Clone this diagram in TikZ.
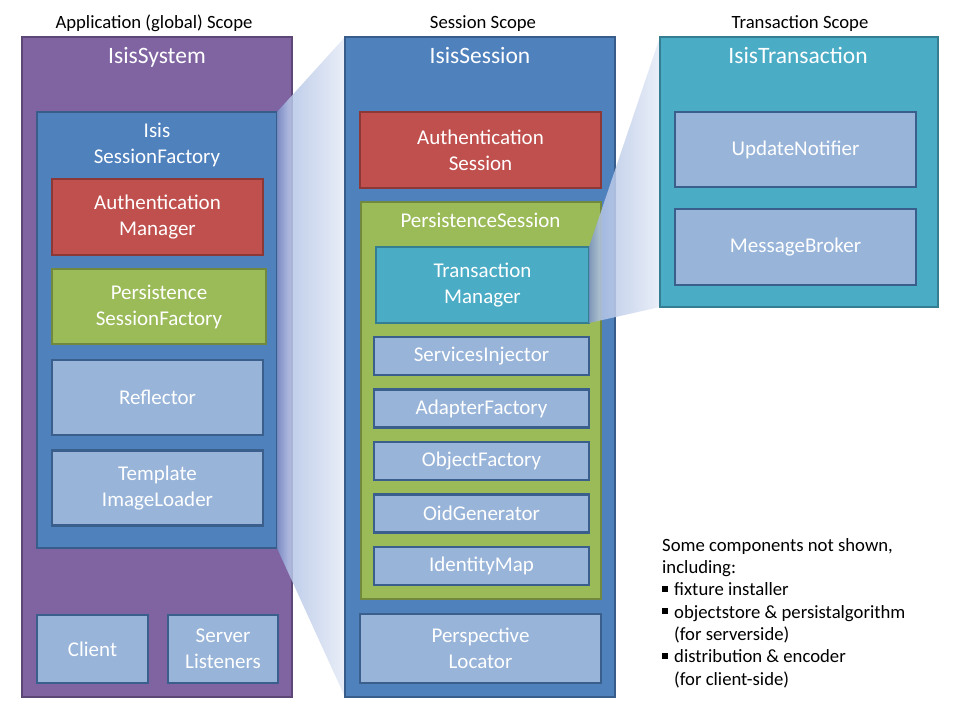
\documentclass[tikz,border=0pt]{standalone}
\usepackage{fontspec}
\setmainfont{Carlito}
\usetikzlibrary{shadings}
\definecolor{purpF}{HTML}{8064A2}\definecolor{purpD}{HTML}{5C4776}
\definecolor{blueF}{HTML}{4F81BD}\definecolor{blueD}{HTML}{385D8A}
\definecolor{redF}{HTML}{C0504D}\definecolor{redD}{HTML}{8C3836}
\definecolor{greenF}{HTML}{9BBB59}\definecolor{greenD}{HTML}{71893F}
\definecolor{tealF}{HTML}{4BACC6}\definecolor{tealD}{HTML}{357D91}
\definecolor{lightF}{HTML}{98B4D9}\definecolor{lightD}{HTML}{3A5F8C}
\definecolor{funA}{HTML}{7A92CA}\definecolor{funB}{HTML}{B3C4E6}\definecolor{funC}{HTML}{E6ECF7}
\pgfdeclarehorizontalshading{funnel}{100bp}{color(0bp)=(funA); color(25bp)=(funA); color(33bp)=(funB); color(75bp)=(funC); color(100bp)=(funC)}
\pgfdeclarelayer{L1}\pgfdeclarelayer{L2}\pgfdeclarelayer{L3}\pgfdeclarelayer{L4}
\pgfsetlayers{L1,L2,L3,L4,main}
\newcommand{\bul}{\rule[3.7pt]{6pt}{6pt}\hspace{6pt}}
\tikzset{
  box/.style={draw, line width=2.5pt, inner sep=0pt, outer sep=0pt, text=white, align=center, font=\fontsize{21}{26}\selectfont},
  pbox/.style={box, fill=purpF, draw=purpD},
  bbox/.style={box, fill=blueF, draw=blueD},
  rbox/.style={box, fill=redF, draw=redD},
  gbox/.style={box, fill=greenF, draw=greenD},
  tbox/.style={box, fill=tealF, draw=tealD},
  lbox/.style={box, fill=lightF, draw=lightD},
  boxtitle/.style={text=white, inner sep=0pt, anchor=base, font=\fontsize{23.5}{28}\selectfont},
  inlabel/.style={text=white, inner sep=0pt, align=center, font=\fontsize{21}{26}\selectfont},
  scopelabel/.style={text=black, inner sep=0pt, anchor=base, font=\fontsize{18.7}{22}\selectfont},
  notetext/.style={text=black, inner sep=0pt, align=left, font=\fontsize{18.7}{22.3}\selectfont},
  funnelfill/.style={shading=funnel, fill opacity=0.85}
}
\begin{document}
\begin{tikzpicture}[x=1pt,y=-1pt]
\begin{pgfonlayer}{L1}
\fill[white] (0,0) rectangle (960,720);
\useasboundingbox (0,0) rectangle (960,720);
\node[scopelabel] (appscope) at (154,28) {Application (global) Scope};
\node[pbox, minimum width=270pt, minimum height=660pt] (sys) at (157,367) {};
\node[boxtitle] (systitle) at (157,63) {IsisSystem};
\node[bbox, minimum width=240pt, minimum height=436pt] (isf) at (157,330) {};
\node[inlabel] (isftitle) at (157,144.5) {Isis\\SessionFactory};
\node[rbox, minimum width=211pt, minimum height=76pt] (am) at (157.5,217) {Authentication\\Manager};
\node[gbox, minimum width=214pt, minimum height=75pt] (psf) at (159,306.5) {Persistence\\SessionFactory};
\node[lbox, minimum width=211pt, minimum height=75pt] (refl) at (157.5,397.5) {Reflector};
\node[lbox, minimum width=211pt, minimum height=75pt] (til) at (157.5,488) {Template\\ImageLoader};
\node[lbox, minimum width=111pt, minimum height=68pt] (client) at (92.5,649) {Client};
\node[lbox, minimum width=110pt, minimum height=68pt] (server) at (223,649) {Server\\Listeners};
\end{pgfonlayer}
\begin{pgfonlayer}{L3}
\node[scopelabel] (sessscope) at (483,28) {Session Scope};
\node[bbox, minimum width=270pt, minimum height=660pt] (sess) at (480,367) {};
\node[boxtitle] (sesstitle) at (480,63) {IsisSession};
\node[rbox, minimum width=241pt, minimum height=76pt] (as) at (480.5,150) {Authentication\\Session};
\node[gbox, minimum width=240pt, minimum height=397pt] (ps) at (481,400.5) {};
\node[inlabel, anchor=base] (pstitle) at (480.5,227) {PersistenceSession};
\node[tbox, minimum width=213pt, minimum height=76pt] (tm) at (482.5,285) {Transaction\\Manager};
\node[lbox, minimum width=215pt, minimum height=38pt] (si) at (481.5,356) {ServicesInjector};
\node[lbox, minimum width=215pt, minimum height=38pt] (af) at (481.5,408.5) {AdapterFactory};
\node[lbox, minimum width=215pt, minimum height=38pt] (of) at (481.5,461) {ObjectFactory};
\node[lbox, minimum width=215pt, minimum height=38pt] (og) at (481.5,513.5) {OidGenerator};
\node[lbox, minimum width=215pt, minimum height=38pt] (im) at (481.5,566) {IdentityMap};
\node[lbox, minimum width=241pt, minimum height=69pt] (pl) at (480.5,648.5) {Perspective\\Locator};
\end{pgfonlayer}
\node[scopelabel] (txscope) at (800,28) {Transaction Scope};
\node[tbox, minimum width=278pt, minimum height=270pt] (tx) at (799,172) {};
\node[boxtitle] (txtitle) at (798,63) {IsisTransaction};
\node[lbox, minimum width=241pt, minimum height=75pt] (un) at (795.5,149.5) {UpdateNotifier};
\node[lbox, minimum width=241pt, minimum height=76pt] (mb) at (795.5,247) {MessageBroker};
\node[notetext, anchor=base west] (note) at (662,685) {Some components not shown,\\including:\\\bul fixture installer\\\bul objectstore \& persistalgorithm\\\hspace*{12pt}(for serverside)\\\bul distribution \& encoder\\\hspace*{12pt}(for client-side)};
\begin{pgfonlayer}{L2}
\shade[funnelfill] (isf.north east) -- (sess.north west) -- (sess.south west) -- (isf.south east) -- cycle;
\end{pgfonlayer}
\begin{pgfonlayer}{L4}
\shade[funnelfill] (tm.north east) -- (tx.north west) -- (tx.south west) -- (tm.south east) -- cycle;
\end{pgfonlayer}
\end{tikzpicture}
\end{document}
